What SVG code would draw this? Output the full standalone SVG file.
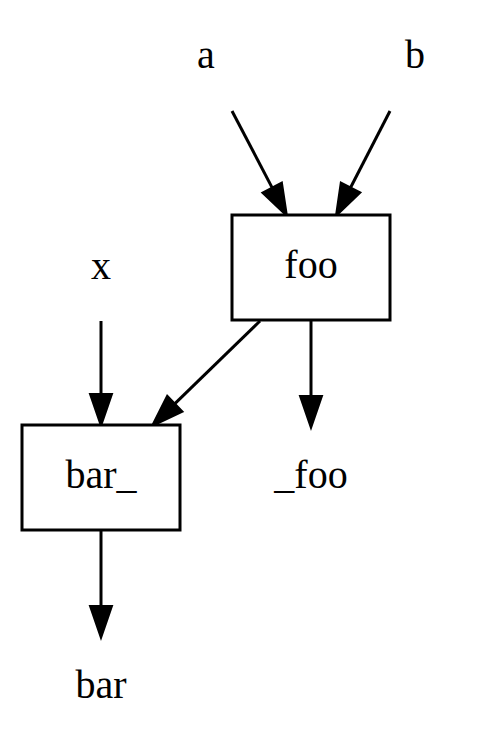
<svg xmlns="http://www.w3.org/2000/svg" width="482" height="750" viewBox="0 0 482 750">
<style>
text{font-family:"Liberation Serif","Times New Roman",serif;font-size:40px;fill:#000;text-anchor:middle}
.box{fill:#fff;stroke:#000;stroke-width:3}
.edge{fill:none;stroke:#000;stroke-width:3}
</style>
<defs>
<marker id="arr" markerUnits="userSpaceOnUse" orient="auto" refX="0" refY="0" markerWidth="40" markerHeight="30" overflow="visible">
<path d="M0,-11 L32,0 L0,11 Z" fill="#000" stroke="#000" stroke-width="2"/>
</marker>
</defs>
<rect width="482" height="750" fill="#fff"/>
<g id="connectors">
<path class="edge" d="M232,111 L272.1,187.6" marker-end="url(#arr)"/>
<path class="edge" d="M390,111 L350.6,187.5" marker-end="url(#arr)"/>
<path class="edge" d="M101,321 L101,394" marker-end="url(#arr)"/>
<path class="edge" d="M260,321 L174.9,403.7" marker-end="url(#arr)"/>
<path class="edge" d="M311,321 L311,396" marker-end="url(#arr)"/>
<path class="edge" d="M101,531 L101,606" marker-end="url(#arr)"/>
</g>
<g id="a"><text x="206" y="68">a</text></g>
<g id="b"><text x="415" y="68">b</text></g>
<g id="x"><text x="101" y="279">x</text></g>
<g id="foo"><rect class="box" x="232" y="215" width="158" height="105"/><text x="311" y="278">foo</text></g>
<g id="bar_"><rect class="box" x="22" y="425" width="158" height="105"/><text x="101" y="488">bar_</text></g>
<g id="_foo"><text x="311" y="488">_foo</text></g>
<g id="bar"><text x="101" y="698">bar</text></g>
</svg>
